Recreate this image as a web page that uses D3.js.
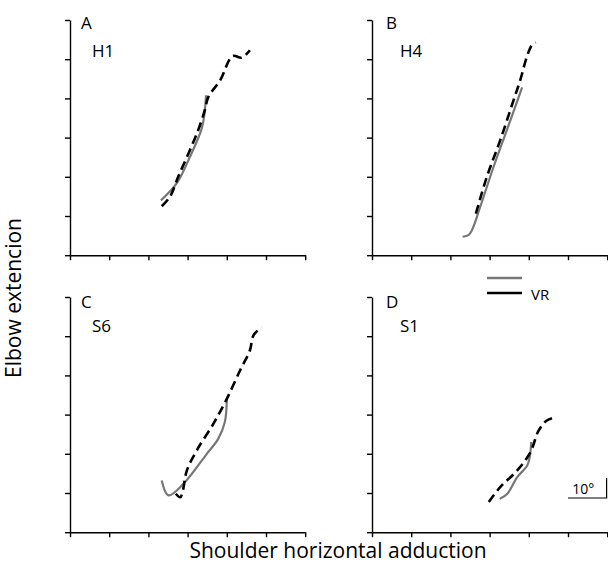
<!DOCTYPE html>
<html>
<head>
<meta charset="utf-8">
<script src="https://cdn.jsdelivr.net/npm/d3@7"></script>
<style>
  body { margin: 0; background: #fff; }
  svg text { font-family: "Open Sans", "Noto Sans", sans-serif; fill: #000; }
</style>
</head>
<body>
<svg id="chart" width="608" height="567"></svg>
<script>
// panel names and subject codes
var panelLetters = ["A", "B", "C", "D"];
var subjects = ["H1", "H4", "S6", "S1"];

// axis ticks, degrees (10 deg per tick)
var tickValues = [0, 10, 20, 30, 40, 50, 60];

// real movement (grey), [shoulder adduction, elbow extension]
var realH1 = [[23.2,14.0],[27.2,18.3],[30.6,25.1],[33.6,32.3],[34.3,36.1],[34.7,40.8]];
var realH4 = [[23.1,4.7],[24.6,5.1],[25.5,6.4],[27.6,12.3],[31.0,22.5],[34.4,31.9],[38.3,42.8]];
var realS6 = [[23.4,13.2],[25.1,9.4],[28.9,12.3],[34.9,20.0],[37.8,23.8],[39.5,28.1],[40.0,34.0]];
var realS1 = [[32.6,8.5],[34.6,9.9],[37.0,14.0],[39.6,17.0],[40.3,19.5],[40.6,23.0]];

// VR movement (black dashed)
var vrH1 = [[23.4,12.5],[25.5,14.9],[27.6,20.0],[30.2,25.9],[32.7,31.9],[34.4,37.0],[35.3,40.4],
            [38.3,44.6],[41.5,50.8],[43.8,50.4],[45.9,52.3]];
var vrH4 = [[26.5,10.6],[29.3,20.0],[32.7,29.3],[36.1,39.5],[37.8,44.6],[39.5,50.6],[40.8,53.6],[41.8,54.2]];
var vrS6 = [[27.0,9.8],[28.1,8.9],[28.7,10.2],[29.8,15.7],[32.3,20.8],[36.6,27.7],[40.0,34.0],
            [43.4,41.3],[45.9,46.4],[46.8,50.2],[48.9,52.3]];
var vrS1 = [[29.8,7.7],[32.7,11.5],[37.0,15.7],[40.4,20.4],[42.5,25.9],[44.6,28.5],[47.0,29.3]];

var realSeries = [realH1, realH4, realS6, realS1];
var vrSeries = [vrH1, vrH4, vrS6, vrS1];

var legendLabels = ["", "VR"];
var scaleLabel = "10\u00b0";

// layout
var svg = d3.select("#chart");
var panelW = 235.2, panelH = 235.2;
var panelOrigins = [[70, 20], [372, 20], [70, 297], [372, 297]];
var letterOffsets = [[11, 9], [14, 9], [11, 11], [14, 11]];
var subjectOffsets = [[22, 37], [28, 37], [22, 35], [28, 35]];
var grey = "#777777";

var x = d3.scaleLinear().domain([0, 60]).range([0, panelW]);
var y = d3.scaleLinear().domain([0, 60]).range([panelH, 0]);

var lineY = d3.line()
             .x(function(d){ return x(d[0]); })
             .y(function(d){ return y(d[1]); })
             .curve(d3.curveCatmullRom.alpha(0.5));

for ( var i = 0; i < 4; i++ ){

    var g = svg.append("g")
               .attr("class", "panel")
               .attr("transform", "translate(" + panelOrigins[i][0] + "," + panelOrigins[i][1] + ")");

    // axes, no tick labels
    g.append("g")
     .attr("transform", "translate(0," + panelH + ")")
     .call(d3.axisBottom(x).tickValues(tickValues).tickSize(5).tickSizeOuter(0).tickFormat(""));
    g.append("g")
     .call(d3.axisLeft(y).tickValues(tickValues).tickSize(5).tickSizeOuter(0).tickFormat(""));
    g.selectAll(".domain, .tick line").attr("stroke", "#000").attr("stroke-width", 1.4);

    g.append("text")
     .attr("x", letterOffsets[i][0])
     .attr("y", letterOffsets[i][1])
     .attr("font-size", "17px")
     .text(panelLetters[i]);
    g.append("text")
     .attr("x", subjectOffsets[i][0])
     .attr("y", subjectOffsets[i][1])
     .attr("font-size", "17px")
     .text(subjects[i]);

    g.append("path")
     .datum(realSeries[i])
     .attr("d", lineY)
     .attr("fill", "none")
     .attr("stroke", grey)
     .attr("stroke-width", 2.2)
     .attr("stroke-linejoin", "round");

    g.append("path")
     .datum(vrSeries[i])
     .attr("d", lineY)
     .attr("fill", "none")
     .attr("stroke", "#000")
     .attr("stroke-width", 2.6)
     .attr("stroke-dasharray", "9,5");
}

// legend
var legend = svg.append("g").attr("transform", "translate(487,278)");
[grey, "#000"].forEach(function(c, k){
    legend.append("line")
          .attr("x1", 0).attr("x2", 35)
          .attr("y1", k * 15).attr("y2", k * 15)
          .attr("stroke", c)
          .attr("stroke-width", 2.6);
    legend.append("text")
          .attr("x", 44).attr("y", k * 15 + 7)
          .attr("font-size", "15px")
          .text(legendLabels[k]);
});

// scale bar: 10 degrees
var sb = svg.append("g").attr("transform", "translate(" + (372 + x(60)) + ",498)");
sb.append("line").attr("x1", -x(10)).attr("x2", 0).attr("y1", 0).attr("y2", 0)
  .attr("stroke", "#000").attr("stroke-width", 1.2);
sb.append("line").attr("x1", -0.6).attr("x2", -0.6).attr("y1", 0).attr("y2", -20)
  .attr("stroke", "#000").attr("stroke-width", 1.2);
sb.append("text").attr("x", -35).attr("y", -4).attr("font-size", "14px").text(scaleLabel);

// axis titles
svg.append("text")
   .attr("x", 338).attr("y", 558)
   .attr("text-anchor", "middle")
   .attr("font-size", "21px")
   .text("Shoulder horizontal adduction");
svg.append("text")
   .attr("transform", "translate(21,298) rotate(-90)")
   .attr("text-anchor", "middle")
   .attr("font-size", "21px")
   .text("Elbow extencion");
</script>
</body>
</html>
